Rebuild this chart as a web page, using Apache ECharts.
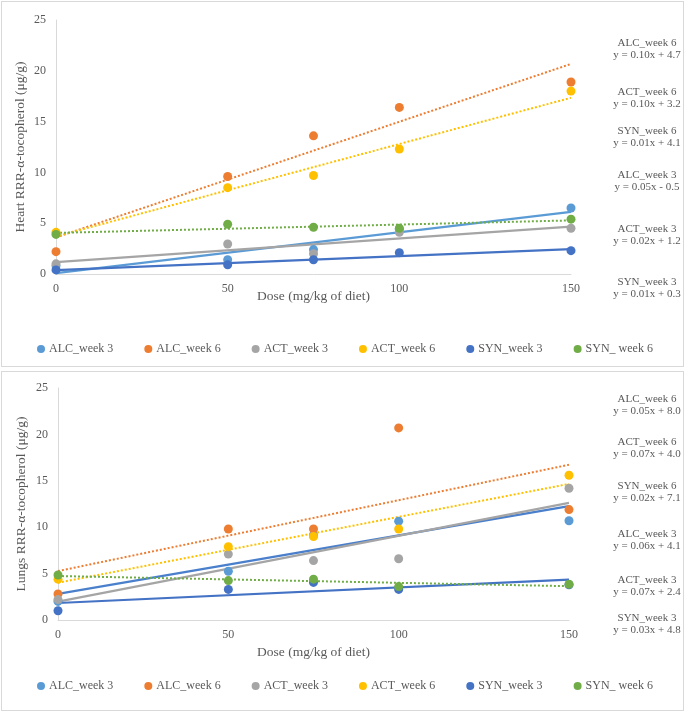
<!DOCTYPE html>
<html>
<head>
<meta charset="utf-8">
<script src="https://cdn.jsdelivr.net/npm/echarts@6/dist/echarts.min.js"></script>
<style>
  html, body { margin: 0; padding: 0; background: #ffffff; }
  #wrap { position: relative; width: 685px; height: 712px; background: #fff; }
  .panel { position: absolute; border: 1px solid #d9d9d9; box-sizing: border-box; background: #fff; }
  #chart { position: absolute; left: 0; top: 0; width: 685px; height: 712px; }
</style>
</head>
<body>
<div id="wrap">
  <div class="panel" style="left:1px;top:1px;width:683px;height:366px;"></div>
  <div class="panel" style="left:1px;top:371px;width:683px;height:340px;"></div>
  <div id="chart"></div>
</div>
<script>
// ---------- data ----------
const doses = [0, 50, 75, 100, 150];
const seriesNames = ['ALC_week 3', 'ALC_week 6', 'ACT_week 3', 'ACT_week 6', 'SYN_week 3', 'SYN_ week 6'];
const xTicks = [0, 50, 100, 150];
const yTicks = [0, 5, 10, 15, 20, 25];

// Heart
const heartALC3 = [0.8, 1.4, 2.4, 4.4, 6.5];
const heartALC6 = [2.2, 9.6, 13.6, 16.4, 18.9];
const heartACT3 = [1.0, 2.95, 2.0, 4.1, 4.5];
const heartACT6 = [4.1, 8.5, 9.7, 12.3, 18.0];
const heartSYN3 = [0.4, 0.9, 1.4, 2.1, 2.3];
const heartSYN6 = [3.9, 4.9, 4.6, 4.5, 5.4];

// Lungs
const lungsALC3 = [2.0, 5.25, 9.1, 10.65, 10.7];
const lungsALC6 = [2.8, 9.8, 9.8, 20.7, 11.9];
const lungsACT3 = [2.2, 7.1, 6.4, 6.6, 14.2];
const lungsACT6 = [4.4, 7.9, 9.0, 9.8, 15.6];
const lungsSYN3 = [1.0, 3.3, 4.05, 3.3, 3.8];
const lungsSYN6 = [4.85, 4.25, 4.4, 3.6, 3.85];

// Trendline equation labels (as printed)
const heartEqNames = ['ALC_week 6', 'ACT_week 6', 'SYN_week 6', 'ALC_week 3', 'ACT_week 3', 'SYN_week 3'];
const heartEqs = ['y = 0.10x + 4.7', 'y = 0.10x + 3.2', 'y = 0.01x + 4.1', 'y = 0.05x - 0.5', 'y = 0.02x + 1.2', 'y = 0.01x + 0.3'];
const lungsEqNames = ['ALC_week 6', 'ACT_week 6', 'SYN_week 6', 'ALC_week 3', 'ACT_week 3', 'SYN_week 3'];
const lungsEqs = ['y = 0.05x + 8.0', 'y = 0.07x + 4.0', 'y = 0.02x + 7.1', 'y = 0.06x + 4.1', 'y = 0.07x + 2.4', 'y = 0.03x + 4.8'];

const heartTitle = 'Heart RRR-α-tocopherol (μg/g)';
const lungsTitle = 'Lungs RRR-α-tocopherol (μg/g)';
const xTitle = 'Dose (mg/kg of diet)';

// ---------- styles / layout ----------
const colors = ['#5B9BD5', '#ED7D31', '#A5A5A5', '#FFC000', '#4472C4', '#70AD47'];
const heartTrendColors = ['#5B9BD5', '#ED7D31', '#A5A5A5', '#FFC000', '#4472C4', '#70AD47'];
const lungsTrendColors = ['#4A7FCC', '#ED7D31', '#A5A5A5', '#FFC000', '#4472C4', '#70AD47'];
const dotted = [false, true, false, true, false, true];
const FONT = '"Liberation Serif", "Times New Roman", serif';
const TXT = '#595959';
const heartEqY = [49, 98, 137, 181, 235, 288];
const lungsEqY = [405, 448, 492, 540, 586, 624];

function linreg(xs, ys) {
  const n = xs.length;
  const mx = xs.reduce((a, b) => a + b, 0) / n;
  const my = ys.reduce((a, b) => a + b, 0) / n;
  let sxy = 0, sxx = 0;
  for (let i = 0; i < n; i++) { sxy += (xs[i] - mx) * (ys[i] - my); sxx += (xs[i] - mx) * (xs[i] - mx); }
  const m = sxy / sxx, b = my - m * mx;
  const x0 = Math.min(...xs), x1 = Math.max(...xs);
  return [[x0, b + m * x0], [x1, b + m * x1]];
}

const heartSets = [heartALC3, heartALC6, heartACT3, heartACT6, heartSYN3, heartSYN6];
const lungsSets = [lungsALC3, lungsALC6, lungsACT3, lungsACT6, lungsSYN3, lungsSYN6];

const series = [];
function addSets(sets, gi, trendColors) {
  sets.forEach((ys, i) => {
    series.push({
      name: seriesNames[i] + ' trend' + gi, type: 'line', xAxisIndex: gi, yAxisIndex: gi,
      data: linreg(doses, ys), symbol: 'none', silent: true, z: 2,
      lineStyle: { color: trendColors[i], width: dotted[i] ? 2 : 2.2, type: dotted[i] ? [2, 2] : 'solid' }
    });
  });
  sets.forEach((ys, i) => {
    series.push({
      name: seriesNames[i], type: 'scatter', xAxisIndex: gi, yAxisIndex: gi,
      data: doses.map((d, k) => [d, ys[k]]), symbol: 'circle', symbolSize: 9, z: 3,
      itemStyle: { color: colors[i], opacity: 1 }
    });
  });
}
addSets(heartSets, 0, heartTrendColors);
addSets(lungsSets, 1, lungsTrendColors);

function xAxisCfg(gi, gap) {
  return {
    gridIndex: gi, type: 'value', min: xTicks[0], max: xTicks[xTicks.length - 1], interval: 50,
    axisLine: { show: true, lineStyle: { color: '#d9d9d9', width: 1 } },
    axisTick: { show: false }, splitLine: { show: false },
    axisLabel: { fontFamily: FONT, fontSize: 12, color: TXT, margin: 9 },
    name: xTitle, nameLocation: 'middle', nameGap: gap, nameMoveOverlap: false,
    nameTextStyle: { fontFamily: FONT, fontSize: 13.5, color: TXT }
  };
}
function yAxisCfg(gi, title, gap) {
  return {
    gridIndex: gi, type: 'value', min: yTicks[0], max: yTicks[yTicks.length - 1], interval: 5,
    axisLine: { show: true, lineStyle: { color: '#d9d9d9', width: 1 } },
    axisTick: { show: false }, splitLine: { show: false },
    axisLabel: { fontFamily: FONT, fontSize: 12, color: TXT, margin: 10 },
    name: title, nameLocation: 'middle', nameGap: gap, nameMoveOverlap: false,
    nameTextStyle: { fontFamily: FONT, fontSize: 13.5, color: TXT }
  };
}

function eqGraphics(names, eqs, ys) {
  return names.map((n, i) => ({
    type: 'text', x: 647, y: ys[i],
    style: { text: n + '\n' + eqs[i], fontFamily: FONT, fontSize: 11, fill: TXT, align: 'center', verticalAlign: 'middle', lineHeight: 12.5 }
  }));
}

const legendCommon = {
  data: seriesNames, icon: 'circle', itemWidth: 8, itemHeight: 8, itemGap: 31, left: 32,
  textStyle: { fontFamily: FONT, fontSize: 12, color: TXT, padding: [0, 0, 0, -1] }, selectedMode: false
};

const option = {
  animation: false,
  backgroundColor: 'transparent',
  grid: [
    { left: 56, top: 20, width: 515, height: 254 },
    { left: 58, top: 388, width: 511, height: 232 }
  ],
  xAxis: [xAxisCfg(0, 15), xAxisCfg(1, 25)],
  yAxis: [yAxisCfg(0, heartTitle, 29), yAxisCfg(1, lungsTitle, 30)],
  legend: [
    Object.assign({ top: 338 }, legendCommon),
    Object.assign({ top: 675 }, legendCommon)
  ],
  graphic: eqGraphics(heartEqNames, heartEqs, heartEqY).concat(eqGraphics(lungsEqNames, lungsEqs, lungsEqY)),
  series: series
};

const chart = echarts.init(document.getElementById('chart'), null, { renderer: 'canvas' });
chart.setOption(option);
</script>
</body>
</html>
